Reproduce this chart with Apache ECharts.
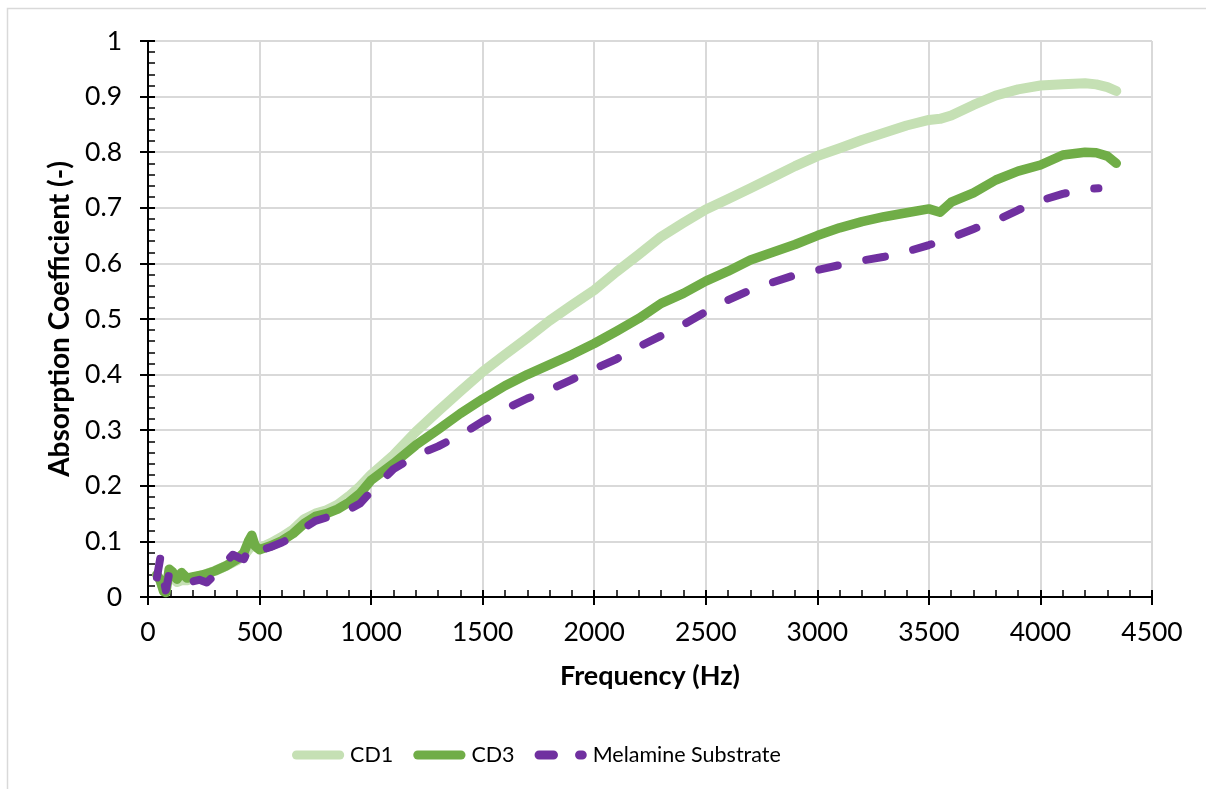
<!DOCTYPE html>
<html>
<head>
<meta charset="utf-8">
<script src="https://cdn.jsdelivr.net/npm/echarts@6/dist/echarts.min.js"></script>
<style>
  html, body { margin: 0; padding: 0; background: #fff; }
  #chart { width: 1206px; height: 789px; }
</style>
</head>
<body>
<div id="chart"></div>
<script>
// Frequency grid (Hz) shared by the two coated samples
const freqCD = [40, 55, 70, 80, 95, 110, 130, 150, 175, 200,
  250, 300, 350, 400, 430, 450, 465, 480, 500,
  550, 600, 650, 700, 750, 800, 850, 900, 950, 1000,
  1100, 1200, 1300, 1400, 1500, 1600, 1700, 1800, 1900, 2000,
  2100, 2200, 2300, 2400, 2500, 2600, 2700, 2800, 2900, 3000,
  3100, 3200, 3300, 3400, 3500, 3550,
  3600, 3700, 3800, 3900, 4000, 4100, 4200, 4250, 4300, 4340];

const cd1 = [0.040, 0.030, 0.015, 0.020, 0.040, 0.035, 0.027, 0.030, 0.030, 0.034,
  0.040, 0.047, 0.056, 0.066, 0.075, 0.085, 0.095, 0.090, 0.088,
  0.097, 0.108, 0.121, 0.140, 0.150, 0.156, 0.166, 0.181, 0.199, 0.220,
  0.255, 0.297, 0.334, 0.370, 0.405, 0.436, 0.466, 0.497, 0.525, 0.552,
  0.585, 0.616, 0.648, 0.673, 0.697, 0.716, 0.735, 0.755, 0.775, 0.793,
  0.807, 0.822, 0.835, 0.848, 0.858, 0.860,
  0.866, 0.885, 0.902, 0.913, 0.920, 0.922, 0.924, 0.922, 0.917, 0.910];

const cd3 = [0.040, 0.030, 0.010, 0.008, 0.050, 0.045, 0.032, 0.044, 0.034, 0.036,
  0.040, 0.047, 0.056, 0.068, 0.080, 0.100, 0.111, 0.092, 0.085,
  0.092, 0.101, 0.114, 0.132, 0.145, 0.150, 0.158, 0.170, 0.186, 0.210,
  0.240, 0.273, 0.301, 0.330, 0.356, 0.380, 0.400, 0.418, 0.436, 0.456,
  0.478, 0.501, 0.528, 0.546, 0.568, 0.586, 0.606, 0.620, 0.634, 0.650,
  0.664, 0.675, 0.684, 0.691, 0.698, 0.692,
  0.710, 0.727, 0.750, 0.766, 0.777, 0.795, 0.800, 0.799, 0.793, 0.780];

// Frequency grid (Hz) for the bare substrate
const freqMel = [40, 55, 70, 80, 95, 110, 130, 150, 175, 200, 230, 263,
  300, 350, 380, 412, 430, 450, 465, 480, 500,
  550, 600, 650, 700, 750, 800, 850, 900, 950, 1000,
  1100, 1200, 1300, 1400, 1500, 1600, 1700, 1800, 1900, 2000,
  2100, 2200, 2300, 2400, 2500, 2600, 2700, 2800, 2900, 3000,
  3100, 3200, 3300, 3400, 3500, 3600, 3700, 3800, 3900, 4000,
  4100, 4200, 4260];

const melamine = [0.035, 0.070, 0.030, 0.012, 0.042, 0.040, 0.035, 0.031, 0.032, 0.028, 0.031, 0.026,
  0.040, 0.063, 0.076, 0.070, 0.068, 0.086, 0.091, 0.086, 0.083,
  0.090, 0.098, 0.108, 0.124, 0.137, 0.143, 0.148, 0.157, 0.168, 0.190,
  0.230, 0.254, 0.271, 0.291, 0.316, 0.338, 0.357, 0.373, 0.391, 0.410,
  0.428, 0.450, 0.470, 0.490, 0.513, 0.534, 0.552, 0.566, 0.579, 0.588,
  0.597, 0.605, 0.612, 0.621, 0.633, 0.646, 0.662, 0.677, 0.696, 0.713,
  0.725, 0.734, 0.735];

const seriesNames = ['CD1', 'CD3', 'Melamine Substrate'];
const xTitle = 'Frequency (Hz)';
const yTitle = 'Absorption Coefficient (-)';

const pairs = (xs, ys) => xs.map((x, i) => [x, ys[i]]);

const FONT = 'Lato';
const gridRect = { left: 148, right: 54, top: 41, bottom: 192 };

// legend swatches: a thick rounded bar, and two rounded dashes for the dashed series
const ICON_SOLID = 'path://M5,0L53,0A5,5,0,0,1,53,10L5,10A5,5,0,0,1,5,0Z';
const ICON_DASH = 'path://M5,0L21,0A5,5,0,0,1,21,10L5,10A5,5,0,0,1,5,0Z' +
  'M50,0L53,0A5,5,0,0,1,53,10L50,10A5,5,0,0,1,50,0Z';

const chart = echarts.init(document.getElementById('chart'), null, { renderer: 'canvas' });

chart.setOption({
  backgroundColor: '#ffffff',
  animation: false,
  graphic: [{
    type: 'rect',
    shape: { x: 7.5, y: 8.5, width: 1400, height: 1000 },
    style: { fill: 'none', stroke: '#d9d9d9', lineWidth: 1.5 },
    silent: true,
    z: -10
  }],
  grid: [
    Object.assign({ containLabel: false }, gridRect),
    Object.assign({ containLabel: false }, gridRect)
  ],
  legend: {
    left: 287,
    top: 739,
    itemWidth: 58,
    itemHeight: 9,
    itemGap: 20,
    textStyle: { fontFamily: FONT, fontSize: 21.5, color: '#000', padding: [0, 0, 0, -2] },
    data: [
      { name: seriesNames[0], icon: ICON_SOLID },
      { name: seriesNames[1], icon: ICON_SOLID },
      { name: seriesNames[2], icon: ICON_DASH }
    ]
  },
  xAxis: [{
    // main axis: labels, gridlines, outer half of the crossing major ticks
    gridIndex: 0,
    type: 'value',
    min: 0, max: 4500, interval: 500,
    name: xTitle,
    nameLocation: 'middle',
    nameGap: 66,
    nameTextStyle: { fontFamily: FONT, fontSize: 27, fontWeight: 'bold', color: '#000' },
    axisLine: { show: true, onZero: false, lineStyle: { color: '#000', width: 2 } },
    axisTick: { show: true, inside: false, length: 8, lineStyle: { color: '#000', width: 2 } },
    axisLabel: { fontFamily: FONT, fontSize: 26.5, color: '#000', margin: 22, formatter: v => String(v) },
    splitLine: { show: true, lineStyle: { color: '#d9d9d9', width: 2 } }
  }, {
    // inner ticks: inner half of the majors plus minor ticks
    gridIndex: 1,
    type: 'value',
    min: 0, max: 4500, interval: 500,
    axisLine: { show: false },
    axisTick: { show: true, inside: true, length: 7, lineStyle: { color: '#000', width: 2 } },
    minorTick: { show: true, splitNumber: 5, length: 7, lineStyle: { color: '#000', width: 1.5 } },
    axisLabel: { show: false },
    splitLine: { show: false }
  }],
  yAxis: [{
    gridIndex: 0,
    type: 'value',
    min: 0, max: 1, interval: 0.1,
    name: yTitle,
    nameLocation: 'middle',
    nameGap: 71,
    nameTextStyle: { fontFamily: FONT, fontSize: 28, fontWeight: 'bold', color: '#000' },
    axisLine: { show: true, onZero: false, lineStyle: { color: '#000', width: 2 } },
    axisTick: { show: true, inside: false, length: 8, lineStyle: { color: '#000', width: 2 } },
    axisLabel: {
      fontFamily: FONT, fontSize: 26.5, color: '#000', margin: 26,
      formatter: v => (Math.round(v * 10) / 10).toString()
    },
    splitLine: { show: true, lineStyle: { color: '#d9d9d9', width: 2 } }
  }, {
    gridIndex: 1,
    type: 'value',
    min: 0, max: 1, interval: 0.1,
    axisLine: { show: false },
    axisTick: { show: true, inside: true, length: 7, lineStyle: { color: '#000', width: 2 } },
    minorTick: { show: true, splitNumber: 5, length: 7, lineStyle: { color: '#000', width: 1.5 } },
    axisLabel: { show: false },
    splitLine: { show: false }
  }],
  series: [{
    name: seriesNames[0],
    type: 'line',
    xAxisIndex: 0, yAxisIndex: 0,
    data: pairs(freqCD, cd1),
    showSymbol: false, symbol: 'none',
    color: '#C5E0B4',
    lineStyle: { color: '#C5E0B4', width: 10, cap: 'round', join: 'round' },
    z: 2
  }, {
    name: seriesNames[1],
    type: 'line',
    xAxisIndex: 0, yAxisIndex: 0,
    data: pairs(freqCD, cd3),
    showSymbol: false, symbol: 'none',
    color: '#70AD47',
    lineStyle: { color: '#70AD47', width: 9.5, cap: 'round', join: 'round' },
    z: 3
  }, {
    name: seriesNames[2],
    type: 'line',
    xAxisIndex: 0, yAxisIndex: 0,
    data: pairs(freqMel, melamine),
    showSymbol: false, symbol: 'none',
    color: '#7030A0',
    lineStyle: { color: '#7030A0', width: 8, type: [19, 29], cap: 'round', join: 'round' },
    z: 4
  }]
});
</script>
</body>
</html>
